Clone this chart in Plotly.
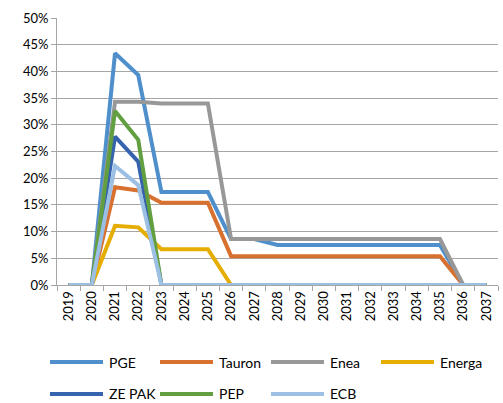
import plotly.graph_objects as go

years = [str(y) for y in range(2019, 2038)]
series_names = ["PGE", "Tauron", "Enea", "Energa", "ZE PAK", "PEP", "ECB"]
colors = ["#4F8FCB", "#D8702F", "#989898", "#E5AD00", "#3563AE", "#629F41", "#9CC0E4"]

pge    = [0, 0, 0.434, 0.393, 0.174, 0.174, 0.174, 0.086, 0.086, 0.075, 0.075, 0.075, 0.075, 0.075, 0.075, 0.075, 0.075, 0, 0]
tauron = [0, 0, 0.183, 0.177, 0.154, 0.154, 0.154, 0.054, 0.054, 0.054, 0.054, 0.054, 0.054, 0.054, 0.054, 0.054, 0.054, 0, 0]
enea   = [0, 0, 0.343, 0.343, 0.340, 0.340, 0.340, 0.086, 0.086, 0.086, 0.086, 0.086, 0.086, 0.086, 0.086, 0.086, 0.086, 0, 0]
energa = [0, 0, 0.111, 0.108, 0.067, 0.067, 0.067, 0, 0, 0, 0, 0, 0, 0, 0, 0, 0, 0, 0]
zepak  = [0, 0, 0.278, 0.231, 0, 0, 0, 0, 0, 0, 0, 0, 0, 0, 0, 0, 0, 0, 0]
pep    = [0, 0, 0.326, 0.272, 0, 0, 0, 0, 0, 0, 0, 0, 0, 0, 0, 0, 0, 0, 0]
ecb    = [0, 0, 0.223, 0.187, 0, 0, 0, 0, 0, 0, 0, 0, 0, 0, 0, 0, 0, 0, 0]

values = [pge, tauron, enea, energa, zepak, pep, ecb]

FONT = "Lato"
FW, FH = 503, 403
fig = go.Figure()
for name, vals, c in zip(series_names, values, colors):
    fig.add_trace(go.Scatter(x=years, y=vals, mode="lines", name=name,
                             line=dict(color=c, width=4), showlegend=False))

# plot area in screen pixels
L, R, T, B = 57, 498, 18, 285
W, H = R - L, B - T
def px(x): return (x - L) / W
def py(y): return (B - y) / H
legend_pos = [(50, 362), (160, 362), (271, 362), (381, 362), (50, 394), (160, 394), (271, 394)]
for (x0, y0), name, c in zip(legend_pos, series_names, colors):
    fig.add_shape(type="line", xref="paper", yref="paper",
                  x0=px(x0), x1=px(x0 + 53), y0=py(y0), y1=py(y0),
                  line=dict(color=c, width=4))
    fig.add_annotation(xref="paper", yref="paper", x=px(x0 + 57), y=py(y0),
                       text=name, showarrow=False, xanchor="left", yanchor="middle",
                       font=dict(family=FONT, size=14, color="#000000"))

fig.update_layout(
    width=FW, height=FH,
    margin=dict(l=L, r=FW - R, t=T, b=FH - B, autoexpand=False),
    paper_bgcolor="white", plot_bgcolor="white",
    font=dict(family=FONT, size=13, color="#000000"),
)
fig.update_xaxes(type="category", range=[-0.5, 18.5], tickangle=-90,
                 showgrid=False, showline=True, linecolor="#A6A6A6", linewidth=1,
                 ticks="outside", ticklen=5, tickcolor="#A6A6A6",
                 tickson="boundaries", tickfont=dict(size=13), automargin=False)
fig.update_yaxes(range=[0, 0.5], dtick=0.05, tickformat=".0%",
                 showgrid=True, gridcolor="#A6A6A6", gridwidth=1,
                 showline=True, linecolor="#A6A6A6", linewidth=1,
                 ticks="outside", ticklen=5, tickcolor="#A6A6A6",
                 zeroline=False, tickfont=dict(size=13), automargin=False)

fig.write_html("out.html", config={"displayModeBar": False},
               post_script="document.body.style.margin='0';document.body.style.overflow='hidden';")
